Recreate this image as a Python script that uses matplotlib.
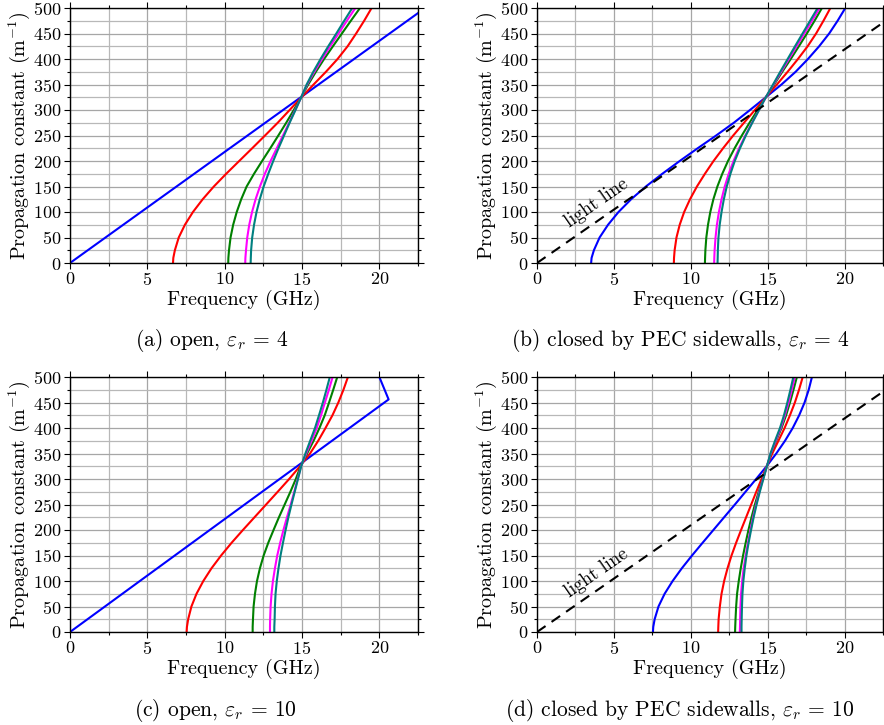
import numpy as np
import matplotlib
matplotlib.use("Agg")
import matplotlib.pyplot as plt
from matplotlib.ticker import MultipleLocator

plt.rcParams['font.family'] = 'serif'
plt.rcParams['font.serif'] = ['cmr10']
plt.rcParams['mathtext.fontset'] = 'cm'
plt.rcParams['axes.formatter.use_mathtext'] = True

# ---------------- data (frequency in GHz, propagation constant in 1/m) -------------
beta = [0, 10, 25, 50, 75, 100, 125, 150, 175, 200, 225, 250, 275, 300,
        325, 350, 375, 400, 425, 450, 475, 500]

# (a) open, eps_r = 4
a_blue_f = [0, 22.5]
a_blue_beta = [0, 490]
a_red_f = [6.66, 6.68, 6.78, 7.03, 7.43, 7.95, 8.58, 9.30, 10.10, 10.94, 11.78, 12.61, 13.43, 14.2,
           14.97, 15.75, 16.55, 17.3, 17.95, 18.5, 19.02, 19.5]
a_green_f = [10.23, 10.24, 10.28, 10.38, 10.55, 10.78, 11.07, 11.42, 11.9, 12.42, 12.95, 13.47, 13.98, 14.47,
             14.95, 15.4, 15.9, 16.43, 17.0, 17.58, 18.16, 18.75]
a_magenta_f = [11.33, 11.34, 11.38, 11.46, 11.59, 11.77, 12.0, 12.28, 12.6, 12.97, 13.37, 13.77, 14.17, 14.56,
               14.95, 15.33, 15.8, 16.3, 16.82, 17.36, 17.9, 18.45]
a_teal_f = [11.68, 11.69, 11.71, 11.78, 11.9, 12.06, 12.27, 12.52, 12.82, 13.14, 13.48, 13.84, 14.2, 14.58,
            14.95, 15.3, 15.73, 16.2, 16.7, 17.22, 17.73, 18.25]

# (b) closed by PEC sidewalls, eps_r = 4
b_blue_f = [3.52, 3.55, 3.7, 4.07, 4.62, 5.3, 6.12, 7.08, 8.15, 9.28, 10.45, 11.65, 12.8, 13.85,
            14.88, 15.9, 16.82, 17.62, 18.35, 19.0, 19.55, 20.05]
b_red_f = [8.9, 8.91, 8.95, 9.07, 9.28, 9.57, 9.95, 10.4, 10.92, 11.48, 12.1, 12.76, 13.46, 14.17,
           14.88, 15.6, 16.3, 16.97, 17.6, 18.15, 18.63, 19.08]
b_green_f = [10.92, 10.93, 10.95, 11.01, 11.12, 11.27, 11.47, 11.73, 12.05, 12.42, 12.85, 13.32, 13.82, 14.35,
             14.88, 15.42, 15.95, 16.5, 17.03, 17.55, 18.05, 18.53]
b_magenta_f = [11.52, 11.53, 11.55, 11.61, 11.7, 11.83, 12.0, 12.21, 12.47, 12.78, 13.14, 13.55, 13.98, 14.43,
               14.88, 15.38, 15.88, 16.38, 16.88, 17.38, 17.88, 18.38]
b_teal_f = [11.74, 11.75, 11.76, 11.8, 11.88, 12.0, 12.15, 12.34, 12.58, 12.86, 13.2, 13.58, 14.0, 14.44,
            14.88, 15.35, 15.82, 16.3, 16.78, 17.27, 17.76, 18.25]

# (c) open, eps_r = 10
c_blue_f = [0, 20.6, 20.0]
c_blue_beta = [0, 456, 500]
c_red_f = [7.54, 7.56, 7.64, 7.85, 8.18, 8.62, 9.15, 9.77, 10.45, 11.18, 11.93, 12.68, 13.43, 14.17,
           14.87, 15.52, 16.05, 16.52, 16.97, 17.35, 17.68, 17.97]
c_green_f = [11.81, 11.81, 11.83, 11.87, 11.96, 12.09, 12.28, 12.52, 12.82, 13.16, 13.51, 13.88, 14.25, 14.6,
             14.91, 15.33, 15.75, 16.13, 16.47, 16.75, 17.02, 17.28]
c_magenta_f = [12.93, 12.93, 12.94, 12.97, 13.03, 13.12, 13.25, 13.4, 13.59, 13.8, 14.03, 14.27, 14.5, 14.72,
               14.94, 15.27, 15.62, 15.95, 16.23, 16.48, 16.74, 16.98]
c_teal_f = [13.21, 13.21, 13.23, 13.25, 13.29, 13.37, 13.48, 13.61, 13.77, 13.94, 14.12, 14.32, 14.53, 14.74,
            14.95, 15.22, 15.53, 15.84, 16.1, 16.35, 16.58, 16.8]

# (d) closed by PEC sidewalls, eps_r = 10
d_blue_f = [7.54, 7.56, 7.65, 7.9, 8.3, 8.82, 9.42, 10.08, 10.77, 11.47, 12.17, 12.87, 13.56, 14.25,
            14.93, 15.56, 16.13, 16.63, 17.05, 17.4, 17.67, 17.88]
d_red_f = [11.78, 11.79, 11.81, 11.89, 12.0, 12.17, 12.39, 12.65, 12.95, 13.27, 13.6, 13.93, 14.26, 14.6,
           14.94, 15.3, 15.7, 16.1, 16.45, 16.77, 17.04, 17.28]
d_green_f = [12.88, 12.89, 12.91, 12.95, 13.01, 13.12, 13.25, 13.4, 13.57, 13.75, 13.95, 14.17, 14.42, 14.68,
             14.95, 15.22, 15.55, 15.9, 16.2, 16.45, 16.68, 16.9]
d_magenta_f = [13.19, 13.2, 13.21, 13.23, 13.27, 13.34, 13.44, 13.57, 13.72, 13.88, 14.05, 14.25, 14.46, 14.7,
               14.95, 15.2, 15.52, 15.85, 16.12, 16.36, 16.57, 16.77]
d_teal_f = [13.3, 13.3, 13.31, 13.33, 13.36, 13.42, 13.51, 13.62, 13.76, 13.92, 14.09, 14.28, 14.49, 14.72,
            14.95, 15.18, 15.48, 15.8, 16.06, 16.28, 16.48, 16.67]

# light line (free-space wavenumber)
light_f = [0, 22.5]
light_beta = [0, 471.2]

captions = [r'(a) open, $\varepsilon_r$ = 4',
            r'(b) closed by PEC sidewalls, $\varepsilon_r$ = 4',
            r'(c) open, $\varepsilon_r$ = 10',
            r'(d) closed by PEC sidewalls, $\varepsilon_r$ = 10']
xlabel = 'Frequency (GHz)'
ylabel = r'Propagation constant (m$^{-1}$)'
light_label = 'light line'

colors = ['#0000ff', '#ff0000', '#008000', '#ff00ff', '#008080']

# ---------------- figure ----------------
W, H = 884, 725
fig = plt.figure(figsize=(W / 100, H / 100), dpi=100)

def axes_at(left_px, top_px, right_px, bottom_px):
    return fig.add_axes([left_px / W, 1 - bottom_px / H,
                         (right_px - left_px) / W, (bottom_px - top_px) / H])

ax_a = axes_at(70, 8, 418, 263)
ax_b = axes_at(537, 8, 883, 263)
ax_c = axes_at(70, 377, 418, 632)
ax_d = axes_at(537, 377, 883, 632)

LW = 1.5

def style(ax):
    ax.set_xlim(0, 22.5)
    ax.set_ylim(0, 500)
    ax.xaxis.set_major_locator(MultipleLocator(5))
    ax.xaxis.set_minor_locator(MultipleLocator(2.5))
    ax.yaxis.set_major_locator(MultipleLocator(50))
    ax.yaxis.set_minor_locator(MultipleLocator(25))
    ax.grid(True, which='major', color='#a6a6a6', lw=0.9)
    ax.grid(True, which='minor', color='#b8b8b8', lw=0.9)
    ax.set_axisbelow(True)
    ax.tick_params(which='both', direction='out', top=True, right=True,
                   labelsize=13, width=0.8, pad=2)
    ax.tick_params(which='major', length=4)
    ax.tick_params(which='minor', length=2.5)
    for s in ax.spines.values():
        s.set_linewidth(1.0)
    ax.set_xlabel(xlabel, fontsize=14.5, labelpad=1)
    ax.set_ylabel(ylabel, fontsize=14.5, labelpad=1)

def curves(ax, blue_f, blue_beta, red, green, magenta, teal):
    ax.plot(blue_f, blue_beta, color=colors[0], lw=LW)
    for fvals, c in zip([red, green, magenta, teal], colors[1:]):
        ax.plot(fvals, beta, color=c, lw=LW)

def light(ax, f_text, b_text):
    ax.plot(light_f, light_beta, color='black', lw=LW, linestyle=(0, (5, 3.5)))
    p = ax.transData.transform([(light_f[0], light_beta[0]), (light_f[1], light_beta[1])])
    ang = np.degrees(np.arctan2(p[1, 1] - p[0, 1], p[1, 0] - p[0, 0]))
    ax.text(f_text, b_text, light_label, rotation=ang, rotation_mode='anchor',
            ha='center', va='center', fontsize=13.5)

for ax in [ax_a, ax_b, ax_c, ax_d]:
    style(ax)

curves(ax_a, a_blue_f, a_blue_beta, a_red_f, a_green_f, a_magenta_f, a_teal_f)
curves(ax_b, b_blue_f, beta, b_red_f, b_green_f, b_magenta_f, b_teal_f)
curves(ax_c, c_blue_f, c_blue_beta, c_red_f, c_green_f, c_magenta_f, c_teal_f)
curves(ax_d, d_blue_f, beta, d_red_f, d_green_f, d_magenta_f, d_teal_f)
light(ax_b, 3.9, 118)
light(ax_d, 3.9, 116)

fig.text(212 / W, 1 - 341 / H, captions[0], ha='center', va='center', fontsize=15.5)
fig.text(680 / W, 1 - 341 / H, captions[1], ha='center', va='center', fontsize=15.5)
fig.text(215 / W, 1 - 710 / H, captions[2], ha='center', va='center', fontsize=15.5)
fig.text(680 / W, 1 - 710 / H, captions[3], ha='center', va='center', fontsize=15.5)

fig.savefig('out.png', dpi=100)
